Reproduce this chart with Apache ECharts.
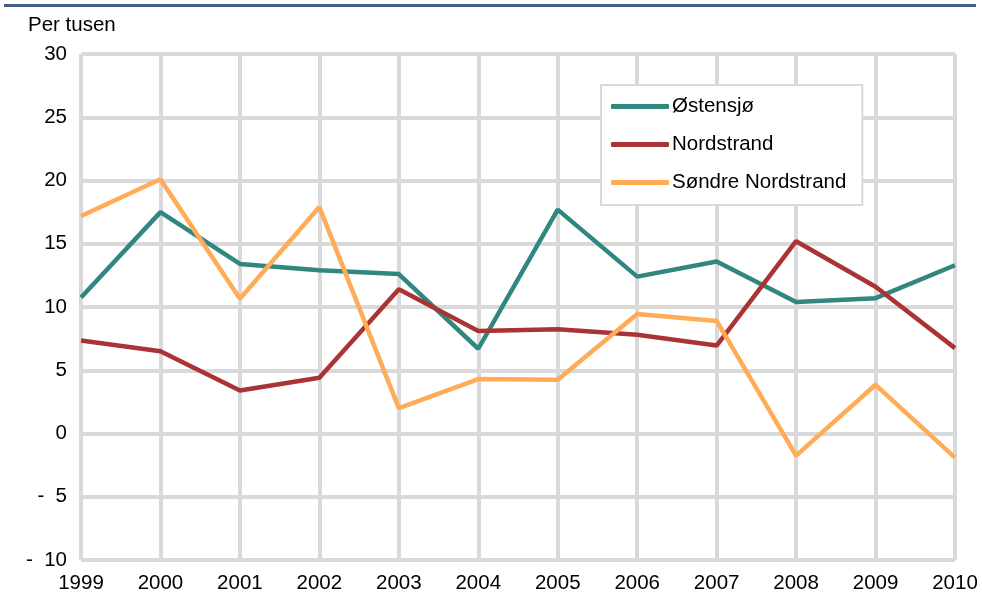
<!DOCTYPE html>
<html><head><meta charset="utf-8">
<script src="https://cdn.jsdelivr.net/npm/echarts@6/dist/echarts.min.js"></script>
<style>html,body{margin:0;padding:0;background:#fff}#c{width:982px;height:593px}</style>
</head><body><div id="c"></div>
<script>
const years = ['1999','2000','2001','2002','2003','2004','2005','2006','2007','2008','2009','2010'];
const ostensjo = [10.75, 17.5, 13.4, 12.9, 12.6, 6.7, 17.7, 12.4, 13.6, 10.4, 10.7, 13.3];
const nordstrand = [7.35, 6.5, 3.4, 4.4, 11.4, 8.1, 8.25, 7.8, 6.95, 15.2, 11.6, 6.75];
const sondreNordstrand = [17.2, 20.1, 10.65, 17.9, 2.0, 4.3, 4.25, 9.45, 8.9, -1.75, 3.85, -1.9];
const seriesNames = ['Østensjø', 'Nordstrand', 'Søndre Nordstrand'];
const colors = ['#31867f', '#aa3333', '#ffab57'];

const chart = echarts.init(document.getElementById('c'));
const font = 'Liberation Sans, Arial, sans-serif';
const fs = 20.5;
chart.setOption({
  animation: false,
  textStyle: {fontFamily: font},
  grid: {left: 81, right: 27, top: 54, bottom: 33, containLabel: false, outerBoundsMode: 'none'},
  graphic: [
    {type: 'rect', shape: {x: 4, y: 4, width: 972, height: 3}, style: {fill: '#435d88'}},
    {type: 'text', left: 28, top: 15, style: {text: 'Per tusen', font: fs + 'px ' + font, fill: '#000'}}
  ],
  legend: {
    orient: 'vertical', left: 601, top: 85,
    backgroundColor: '#fff', borderColor: '#d9d9d9', borderWidth: 2,
    padding: [11, 16, 12, 10], itemGap: 17,
    itemWidth: 58, itemHeight: 5, icon: 'roundRect',
    textStyle: {fontSize: fs, color: '#000', fontFamily: font, padding: [0, 0, 0, -2]},
    data: seriesNames
  },
  xAxis: {
    type: 'category', data: years, boundaryGap: false,
    axisLine: {show: false}, axisTick: {show: false},
    axisLabel: {fontSize: fs, color: '#000', margin: 13, fontFamily: font, interval: 0},
    splitLine: {show: true, lineStyle: {color: '#d9d9d9', width: 4}}
  },
  yAxis: {
    type: 'value', min: -10, max: 30, interval: 5,
    axisLine: {show: false}, axisTick: {show: false},
    axisLabel: {fontSize: fs, color: '#000', margin: 14, fontFamily: font,
      formatter: v => v < 0 ? '-  ' + Math.abs(v) : String(v)},
    splitLine: {show: true, lineStyle: {color: '#d9d9d9', width: 4}}
  },
  series: [ostensjo, nordstrand, sondreNordstrand].map((d, i) => ({
    name: seriesNames[i], type: 'line', data: d, symbol: 'none',
    color: colors[i], lineStyle: {width: 4.5, color: colors[i]}
  }))
});
</script></body></html>
